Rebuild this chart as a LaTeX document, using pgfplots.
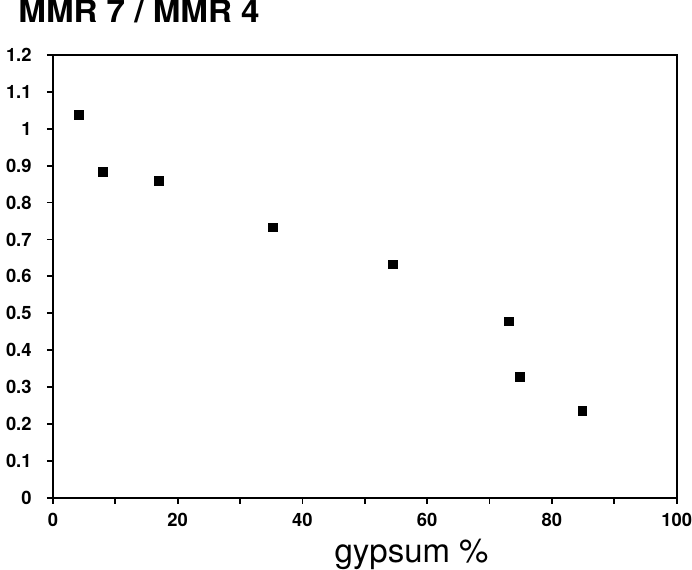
\documentclass[border=0pt]{standalone}
\usepackage{fontspec}
\setmainfont{TeX Gyre Heros}
\newfontfamily\titlefont[FakeStretch=1.07]{TeX Gyre Heros}
\usepackage{pgfplots}
\pgfplotsset{compat=1.18}
\begin{document}
\begin{tikzpicture}
\begin{axis}[
  scale only axis,
  width=312pt, height=221.5pt,
  xmin=0, xmax=100, ymin=0, ymax=1.2,
  xtick={0,20,...,100},
  minor xtick={10,30,...,90},
  ytick={0,0.1,...,1.2},
  yticklabels={0,0.1,0.2,0.3,0.4,0.5,0.6,0.7,0.8,0.9,1,1.1,1.2},
  tick align=outside,
  xtick pos=bottom, ytick pos=left,
  major tick length=3pt, minor tick length=3pt,
  every tick/.style={black, line width=0.9pt},
  axis line style={line width=1pt},
  /pgf/number format/assume math mode=true,
  ticklabel style={font=\fontsize{9.2}{11}\selectfont\bfseries, inner sep=0pt},
  xticklabel style={yshift=-4.5pt},
  yticklabel style={xshift=-7.5pt},
  title={MMR 7 / MMR 4},
  title style={at={(0,1)}, anchor=base west, xshift=-17.5pt, yshift=10pt, font=\titlefont\fontsize{15.5}{18}\selectfont\bfseries, inner sep=0pt},
  xlabel={gypsum \%},
  xlabel style={at={(rel axis cs:0.575,0)}, anchor=base, yshift=-32.5pt, font=\fontsize{16.5}{19}\selectfont, inner sep=0pt},
]
\addplot[only marks, mark=square*, mark size=2.15pt, black] coordinates {
  (4.2,1.037) (8.0,0.883) (17.0,0.858) (35.3,0.733) (54.5,0.632) (73.1,0.478) (74.9,0.327) (84.9,0.236)
};
\end{axis}
\path ([shift={(-26.5pt,-36pt)}]current axis.south west) rectangle ([shift={(7.5pt,27.5pt)}]current axis.north east);
\end{tikzpicture}
\end{document}
